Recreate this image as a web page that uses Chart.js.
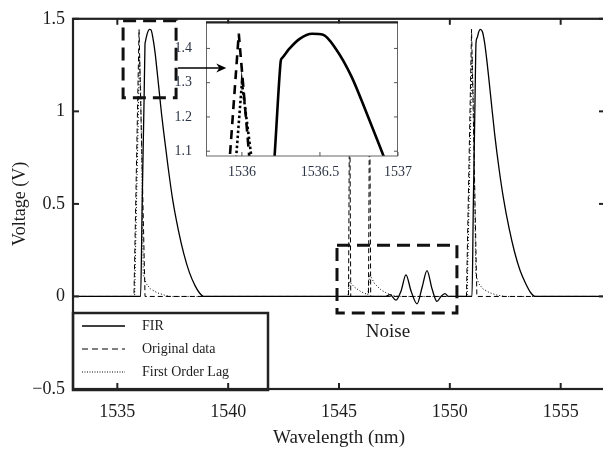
<!DOCTYPE html>
<html>
<head>
<meta charset="utf-8">
<script src="https://cdn.jsdelivr.net/npm/chart.js@4.4.0/dist/chart.umd.min.js"></script>
<style>
  html, body { margin: 0; padding: 0; background: #fff; overflow: hidden; }
  #wrap { position: relative; width: 606px; height: 450px; }
  #main { position: absolute; left: 0; top: 0; }
  #inset { position: absolute; left: 150px; top: 0; }
</style>
</head>
<body>
<div id="wrap">
  <canvas id="main" width="606" height="450"></canvas>
  <canvas id="inset" width="270" height="190"></canvas>
</div>
<script>
// FIR output (solid)
var firX = [1533, 1536.05, 1536.12, 1536.21, 1536.245, 1536.25, 1536.26, 1536.3, 1536.37, 1536.45, 1536.52, 1536.6, 1536.7,
  1536.8, 1536.9, 1537.0, 1537.1, 1537.3, 1537.5, 1537.75, 1538.0, 1538.25, 1538.5, 1538.7, 1538.9,
  1547.1, 1547.3, 1547.57, 1547.8, 1548.02, 1548.25, 1548.52, 1548.75, 1548.97, 1549.2, 1549.42, 1549.6, 1549.78, 1549.95,
  1551.0, 1551.06, 1551.14, 1551.18, 1551.23, 1551.3, 1551.37, 1551.47, 1551.57, 1551.67, 1551.77,
  1551.87, 1552.02, 1552.22, 1552.42, 1552.67, 1552.92, 1553.17, 1553.42, 1553.65, 1553.85, 1557];
var firY = [0, 0, 0.5, 1.09, 1.345, 1.366, 1.373, 1.397, 1.428, 1.443, 1.44, 1.40, 1.32,
  1.21, 1.095, 0.98, 0.88, 0.69, 0.52, 0.36, 0.23, 0.13, 0.06, 0.02, 0,
  0, 0.01, -0.02, 0.03, 0.117, 0.03, -0.04, 0.05, 0.14, 0.04, -0.027, 0.0, 0.015, 0,
  0, 0.5, 1.09, 1.368, 1.397, 1.428, 1.443, 1.43, 1.37, 1.275, 1.165,
  1.05, 0.88, 0.69, 0.53, 0.37, 0.24, 0.14, 0.07, 0.02, 0, 0];

// Original data (dashed)
var origX = [1533, 1535.75, 1535.98, 1536.25, 1545.43, 1545.48, 1545.53, 1546.33, 1546.38, 1546.43, 1550.75, 1550.98, 1551.22, 1557];
var origY = [0, 0, 1.443, 0, 0, 1.2, 0, 0, 1.2, 0, 0, 1.443, 0, 0];

// First order lag (dotted)
var lagX = [1533, 1535.78, 1536.0, 1536.06, 1536.17, 1536.3, 1536.5, 1536.8, 1537.1, 1537.4,
  1545.4, 1545.47, 1545.7, 1546.0, 1546.3, 1546.38, 1546.6, 1546.9, 1547.2, 1547.5, 1547.8,
  1550.78, 1551.0, 1551.06, 1551.17, 1551.3, 1551.5, 1551.8, 1552.1, 1552.5, 1557];
var lagY = [0, 0, 1.30, 1.086, 0.12, 0.07, 0.04, 0.02, 0.008, 0,
  0, 0.08, 0.05, 0.025, 0.01, 0.12, 0.07, 0.035, 0.015, 0.004, 0,
  0, 1.30, 1.086, 0.12, 0.07, 0.04, 0.02, 0.008, 0, 0];

var xTicks = [1535, 1540, 1545, 1550, 1555];
var yTicks = [-0.5, 0, 0.5, 1, 1.5];
var insetXTicks = [1536, 1536.5, 1537];
var insetYTicks = [1.1, 1.2, 1.3, 1.4];
var legendLabels = ['FIR', 'Original data', 'First Order Lag'];

function pts(xs, ys) { return xs.map(function (x, i) { return {x: x, y: ys[i]}; }); }

var serif = 'Liberation Serif';
var ink = '#1c1c1c';

function seg(ctx, x0, y0, x1, y1) { ctx.beginPath(); ctx.moveTo(x0, y0); ctx.lineTo(x1, y1); ctx.stroke(); }

function dashBox(ctx, sx, sy, b) {
  var l = sx.getPixelForValue(b.x0), r = sx.getPixelForValue(b.x1);
  var t = sy.getPixelForValue(b.y1), btm = sy.getPixelForValue(b.y0);
  ctx.save();
  ctx.strokeStyle = '#111'; ctx.lineWidth = 3; ctx.setLineDash([13, 7]);
  ctx.strokeRect(l, t, r - l, btm - t);
  ctx.restore();
}

var zoomBox = {x0: 1535.26, x1: 1537.65, y0: 1.074, y1: 1.489};
var noiseBox = {x0: 1544.91, x1: 1550.32, y0: -0.09, y1: 0.277};

var mainDecor = {
  id: 'mainDecor',
  afterDraw: function (chart) {
    var ctx = chart.ctx, a = chart.chartArea, sx = chart.scales.x, sy = chart.scales.y;
    dashBox(ctx, sx, sy, zoomBox);
    dashBox(ctx, sx, sy, noiseBox);

    ctx.save();
    ctx.fillStyle = ink; ctx.font = '19px "' + serif + '"';
    ctx.textAlign = 'center'; ctx.textBaseline = 'middle';
    ctx.fillText('Noise', (sx.getPixelForValue(noiseBox.x0) + sx.getPixelForValue(noiseBox.x1)) / 2 - 9, sy.getPixelForValue(noiseBox.y0) + 19);
    ctx.restore();

    // legend box
    var lx = a.left, ly = a.bottom - 76, lw = 195, lh = 77;
    ctx.save();
    ctx.fillStyle = '#fff'; ctx.fillRect(lx, ly, lw, lh);
    ctx.strokeStyle = '#222'; ctx.lineWidth = 2.5; ctx.strokeRect(lx, ly, lw, lh);
    var dashes = [[], [6, 4], [1, 1.5]];
    var widths = [1.5, 1.2, 1];
    ctx.font = '14px "' + serif + '"'; ctx.fillStyle = ink; ctx.textBaseline = 'middle'; ctx.textAlign = 'left';
    legendLabels.forEach(function (lab, i) {
      var yy = ly + 13 + i * 23;
      ctx.strokeStyle = '#000'; ctx.lineWidth = widths[i]; ctx.setLineDash(dashes[i]);
      seg(ctx, lx + 9, yy, lx + 52, yy);
      ctx.setLineDash([]);
      ctx.fillText(lab, lx + 69, yy);
    });
    ctx.restore();

    // frame with inward ticks
    ctx.save();
    ctx.strokeStyle = '#222'; ctx.lineWidth = 2.2;
    ctx.strokeRect(a.left, a.top, a.right - a.left, a.bottom - a.top);
    ctx.lineWidth = 2;
    xTicks.forEach(function (v) {
      var p = sx.getPixelForValue(v);
      seg(ctx, p, a.bottom, p, a.bottom - 6);
      seg(ctx, p, a.top, p, a.top + 6);
    });
    yTicks.forEach(function (v) {
      var p = sy.getPixelForValue(v);
      seg(ctx, a.left, p, a.left + 6, p);
      seg(ctx, a.right, p, a.right - 6, p);
    });
    ctx.restore();
  }
};

new Chart(document.getElementById('main'), {
  type: 'scatter',
  data: {
    datasets: [
      {label: 'Original data', data: pts(origX, origY), showLine: true, borderColor: '#000', borderWidth: 1,
        borderDash: [5, 3], pointRadius: 0, tension: 0, fill: false},
      {label: 'First Order Lag', data: pts(lagX, lagY), showLine: true, borderColor: '#000', borderWidth: 1,
        borderDash: [1, 2], pointRadius: 0, tension: 0, fill: false},
      {label: 'FIR', data: pts(firX, firY), showLine: true, borderColor: '#000', borderWidth: 1.3,
        pointRadius: 0, cubicInterpolationMode: 'monotone', fill: false}
    ]
  },
  options: {
    responsive: false, animation: false, events: [],
    layout: {padding: {top: 13, right: 1, left: 0, bottom: 0}},
    plugins: {legend: {display: false}, tooltip: {enabled: false}},
    scales: {
      x: {
        type: 'linear', min: 1533, max: 1557,
        afterBuildTicks: function (s) { s.ticks = xTicks.map(function (v) { return {value: v}; }); },
        afterFit: function (s) { s.height = 61; },
        grid: {display: false, drawTicks: false}, border: {display: false},
        ticks: {padding: 12, color: ink, font: {family: serif, size: 18}, maxRotation: 0,
          callback: function (v) { return String(v); }},
        title: {display: true, text: 'Wavelength (nm)', color: ink, font: {family: serif, size: 19}, padding: {top: 0, bottom: 1}}
      },
      y: {
        min: -0.5, max: 1.5,
        afterBuildTicks: function (s) { s.ticks = yTicks.map(function (v) { return {value: v}; }); },
        afterFit: function (s) { s.width = 73; },
        grid: {display: false, drawTicks: false}, border: {display: false},
        ticks: {padding: 8, color: ink, font: {family: serif, size: 18},
          callback: function (v) { return (v < 0 ? '\u2212' : '') + Math.abs(v); }},
        title: {display: true, text: 'Voltage (V)', color: ink, font: {family: serif, size: 18}, padding: {top: 9, bottom: 0}}
      }
    }
  },
  plugins: [mainDecor]
});

var arrow = {x0: 1535.59, x1: 1535.90, y: 1.343};

var insetDecor = {
  id: 'insetDecor',
  beforeDraw: function (chart) {
    var ctx = chart.ctx, a = chart.chartArea;
    ctx.save(); ctx.fillStyle = '#fff';
    ctx.fillRect(a.left, a.top + 1, a.right - a.left, a.bottom - a.top - 1);
    ctx.restore();
  },
  afterDraw: function (chart) {
    var ctx = chart.ctx, a = chart.chartArea, sx = chart.scales.x, sy = chart.scales.y;
    ctx.save();
    ctx.strokeStyle = '#666'; ctx.lineWidth = 1;
    ctx.strokeRect(a.left + 0.5, a.top, a.right - a.left - 1, a.bottom - a.top);
    ctx.strokeStyle = '#222'; ctx.lineWidth = 2.2;
    seg(ctx, a.left, a.top, a.right, a.top);
    ctx.strokeStyle = '#555'; ctx.lineWidth = 1;
    insetYTicks.forEach(function (v) {
      var p = sy.getPixelForValue(v);
      seg(ctx, a.left, p, a.left + 4, p);
      seg(ctx, a.right, p, a.right - 4, p);
    });
    insetXTicks.forEach(function (v) {
      var p = sx.getPixelForValue(v);
      seg(ctx, p, a.bottom, p, a.bottom - 4);
    });
    // arrow
    var x0 = sx.getPixelForValue(arrow.x0), x1 = sx.getPixelForValue(arrow.x1), y = sy.getPixelForValue(arrow.y);
    ctx.strokeStyle = '#000'; ctx.fillStyle = '#000'; ctx.lineWidth = 1.5;
    seg(ctx, x0, y, x1 - 6, y);
    ctx.beginPath(); ctx.moveTo(x1, y); ctx.lineTo(x1 - 10, y - 4.5); ctx.lineTo(x1 - 7, y); ctx.lineTo(x1 - 10, y + 4.5); ctx.closePath(); ctx.fill();
    ctx.restore();
  }
};

var insetInk = '#2b3445';
new Chart(document.getElementById('inset'), {
  type: 'scatter',
  data: {
    datasets: [
      {data: pts(origX, origY), showLine: true, borderColor: '#000', borderWidth: 2.6,
        borderDash: [9, 6], pointRadius: 0, tension: 0, fill: false},
      {data: pts(lagX, lagY), showLine: true, borderColor: '#000', borderWidth: 2.6,
        borderDash: [2.5, 2.5], pointRadius: 0, tension: 0, fill: false},
      {data: pts(firX, firY), showLine: true, borderColor: '#000', borderWidth: 2.6,
        pointRadius: 0, cubicInterpolationMode: 'monotone', borderJoinStyle: 'round', fill: false}
    ]
  },
  options: {
    responsive: false, animation: false, events: [],
    layout: {padding: {top: 13, right: 17, left: 0, bottom: 0}},
    plugins: {legend: {display: false}, tooltip: {enabled: false}},
    scales: {
      x: {
        type: 'linear', min: 1535.77, max: 1537,
        afterBuildTicks: function (s) { s.ticks = insetXTicks.map(function (v) { return {value: v}; }); },
        afterFit: function (s) { s.height = 34; },
        grid: {display: false, drawTicks: false}, border: {display: false},
        ticks: {padding: 8, color: insetInk, font: {family: serif, size: 14}, maxRotation: 0,
          callback: function (v) { return String(v); }}
      },
      y: {
        min: 1.086, max: 1.476,
        afterBuildTicks: function (s) { s.ticks = insetYTicks.map(function (v) { return {value: v}; }); },
        afterFit: function (s) { s.width = 56; },
        grid: {display: false, drawTicks: false}, border: {display: false},
        ticks: {padding: 14, color: insetInk, font: {family: serif, size: 14},
          callback: function (v) { return v.toFixed(1); }}
      }
    }
  },
  plugins: [insetDecor]
});
</script>
</body>
</html>
